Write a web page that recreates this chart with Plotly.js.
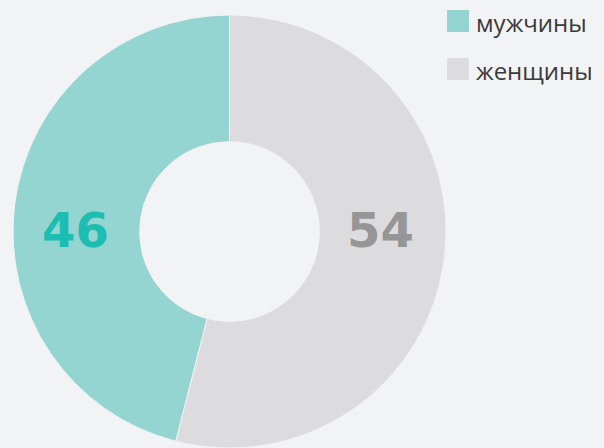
<!DOCTYPE html>
<html><head><meta charset="utf-8">
<script src="https://cdn.plot.ly/plotly-3.0.1.min.js"></script>
<style>html,body{margin:0;padding:0;background:#f2f3f5;}#chart{width:604px;height:448px;}</style>
</head><body><div id="chart"></div>
<script>
const labels = ["мужчины", "женщины"];
const values = [46, 54];
const sliceColors = ["#94d5d2", "#dcdcde"];
const valueColors = ["#1dbdb1", "#969696"];

const cy = 1 - 230 / 448;
const annotations = [
  {x: 75 / 604, y: cy, text: String(values[0]), color: valueColors[0]},
  {x: 381 / 604, y: cy, text: String(values[1]), color: valueColors[1]}
].map(a => ({
  xref: "paper", yref: "paper", x: a.x, y: a.y, xanchor: "center", yanchor: "middle",
  text: "<b>" + a.text + "</b>", showarrow: false,
  font: {family: "DejaVu Sans", size: 48, color: a.color}
}));

const shapes = [];
labels.forEach((lab, i) => {
  const top = 10 + i * 48;
  shapes.push({type: "rect", xref: "paper", yref: "paper",
    x0: 447 / 604, x1: 469 / 604, y0: 1 - (top + 22) / 448, y1: 1 - top / 448,
    fillcolor: sliceColors[i], line: {width: 0}});
  annotations.push({xref: "paper", yref: "paper", x: 474 / 604, y: 1 - (top + 12) / 448,
    xanchor: "left", yanchor: "middle", text: lab, showarrow: false,
    font: {family: "Open Sans", size: 24, color: "#3a3a3a"}});
});

// draw women first so men's slice lies to the left of 12 o'clock
const order = [1, 0];
Plotly.newPlot("chart", [{
  type: "pie", labels: order.map(i => labels[i]), values: order.map(i => values[i]),
  hole: 0.415, sort: false, direction: "clockwise", rotation: 0,
  marker: {colors: order.map(i => sliceColors[i]), line: {color: "#f2f3f5", width: 1}},
  textinfo: "none", hoverinfo: "label+value",
  domain: {x: [13 / 604, 446 / 604], y: [0, 433 / 448]}
}], {
  width: 604, height: 448, margin: {l: 0, r: 0, t: 0, b: 0},
  paper_bgcolor: "#f2f3f5", plot_bgcolor: "#f2f3f5",
  showlegend: false, annotations: annotations, shapes: shapes
}, {displayModeBar: false, staticPlot: true});
</script></body></html>
